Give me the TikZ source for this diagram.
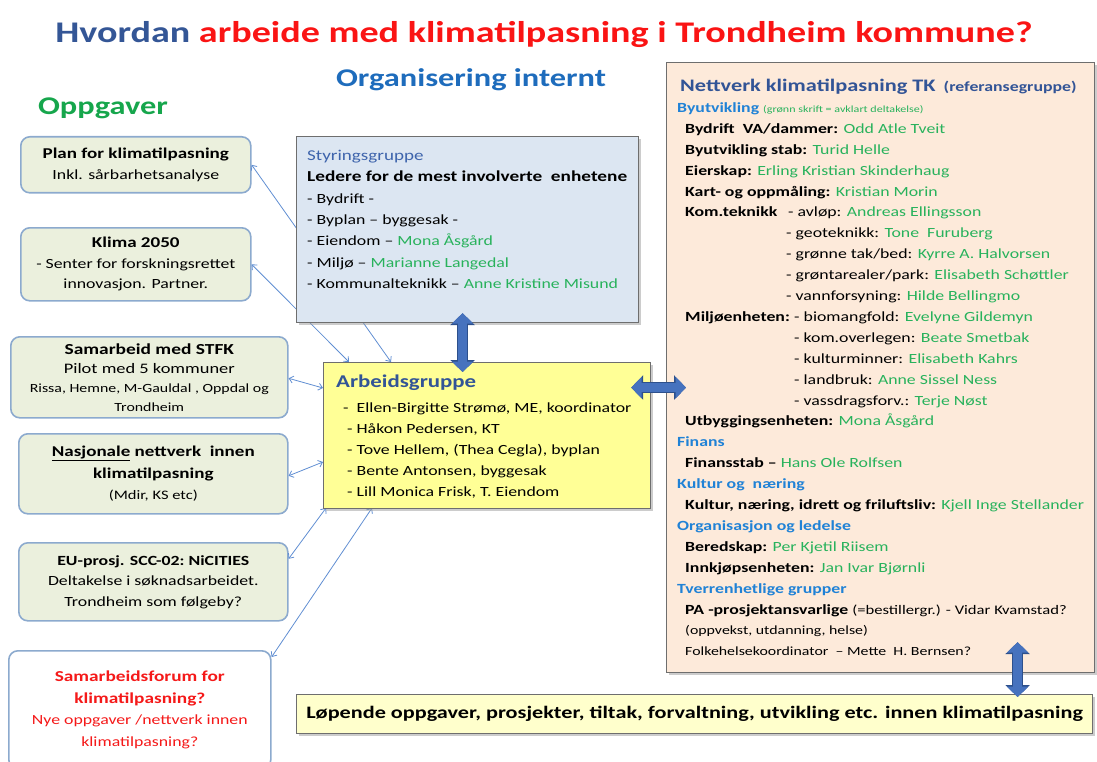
\documentclass[tikz,border=0pt]{standalone}
\usepackage{fontspec}
\setmainfont{Carlito}[FakeStretch=1.27]
\usetikzlibrary{positioning,arrows.meta,shadows}

\definecolor{titleblue}{RGB}{52,86,150}
\definecolor{titlered}{RGB}{250,20,20}
\definecolor{orgblue}{RGB}{30,108,188}
\definecolor{oppgreen}{RGB}{22,166,76}
\definecolor{taskfill}{RGB}{235,240,221}
\definecolor{taskline}{RGB}{140,170,206}
\definecolor{styfill}{RGB}{220,230,242}
\definecolor{arbfill}{RGB}{255,255,150}
\definecolor{netfill}{RGB}{253,234,218}
\definecolor{runfill}{RGB}{255,255,204}
\definecolor{boxline}{RGB}{110,110,110}
\definecolor{namegreen}{RGB}{40,178,92}
\definecolor{headblue}{RGB}{32,130,214}
\definecolor{navy}{RGB}{50,84,150}
\definecolor{styblue}{RGB}{62,100,172}
\definecolor{linkblue}{RGB}{96,142,210}
\definecolor{arrowblue}{RGB}{70,114,190}
\definecolor{arrowedge}{RGB}{45,80,140}
\definecolor{forumred}{RGB}{245,25,25}

\newcommand\nm[1]{\textcolor{namegreen}{#1}}
\newcommand\grp[1]{{\color{headblue}\bfseries\fontsize{14}{21}\selectfont #1}}

\begin{document}
\begin{tikzpicture}[x=1pt, y=1pt,
  taskbox/.style={draw=taskline, line width=1.6pt, rounded corners=9pt, fill=taskfill,
    align=center, anchor=north west, inner sep=2pt, font=\fontsize{14}{20.5}\selectfont},
  stybox/.style={draw=boxline, line width=1.2pt, fill=styfill, anchor=north west,
    drop shadow={shadow xshift=2pt, shadow yshift=-2pt, fill=black!40}},
  arbbox/.style={stybox, fill=arbfill},
  netbox/.style={stybox, fill=netfill},
  runbox/.style={stybox, fill=runfill, inner sep=0pt, align=center,
    font=\bfseries\fontsize{17.5}{20}\selectfont},
  boxtext/.style={anchor=north west, align=left, inner sep=0pt},
  link/.style={draw=linkblue, line width=0.8pt, {Straight Barb[length=4pt,width=7pt]}-{Straight Barb[length=4pt,width=7pt]}},
  blockarrow/.style={draw=arrowblue, line width=8.5pt,
    {Triangle[length=10.5pt,width=21pt]}-{Triangle[length=10.5pt,width=21pt]},
    preaction={draw=arrowedge, line width=10.5pt,
      arrows={Triangle[length=12pt,width=24pt]-Triangle[length=12pt,width=24pt]}}}
]
\useasboundingbox (0,0) rectangle (1097,-762);

% headings
\node[font=\bfseries\fontsize{30}{36}\selectfont] (title) at (544,-34)
  {\textcolor{titleblue}{Hvordan} \textcolor{titlered}{arbeide med klimatilpasning i Trondheim kommune?}};
\node[font=\bfseries\fontsize{25.5}{30}\selectfont, text=orgblue] (org) at (471,-80) {Organisering internt};
\node[font=\bfseries\fontsize{25.5}{30}\selectfont, text=oppgreen] (opp) at (103,-108) {Oppgaver};

% oppgaver
\node[taskbox, minimum width=230, minimum height=56] (plan) at (20,-136)
  {{\bfseries\fontsize{15}{20.5}\selectfont Plan for klimatilpasning}\\ Inkl. sårbarhetsanalyse};
\node[taskbox, minimum width=230, minimum height=73] (klima) at (20,-227)
  {{\bfseries\fontsize{15}{20.5}\selectfont Klima 2050}\\ - Senter for forskningsrettet\\ innovasjon. Partner.};
\node[taskbox, minimum width=277, minimum height=81, font=\fontsize{14.5}{19}\selectfont] (stfk) at (10,-336)
  {{\bfseries\fontsize{15.3}{19}\selectfont Samarbeid med STFK}\\ Pilot med 5 kommuner\\
   {\fontsize{12.5}{16}\selectfont Rissa, Hemne, M-Gauldal , Oppdal og}\\ {\fontsize{12.5}{16}\selectfont Trondheim}};
\node[taskbox, minimum width=269, minimum height=80, font=\fontsize{15}{21.5}\selectfont] (nasj) at (18,-433)
  {{\bfseries\underline{Nasjonale} nettverk\ \ innen}\\ {\bfseries klimatilpasning}\\ {\fontsize{13}{18}\selectfont (Mdir, KS etc)}};
\node[taskbox, minimum width=269, minimum height=78] (eu) at (18,-542)
  {{\bfseries\fontsize{14}{20}\selectfont EU-prosj. SCC-02:\ NiCITIES}\\ Deltakelse i søknadsarbeidet.\\ Trondheim som følgeby?};
\node[taskbox, minimum width=262, minimum height=118, fill=white, text=forumred, font=\fontsize{14}{21.5}\selectfont] (forum) at (8,-650)
  {{\bfseries\fontsize{15.2}{22.5}\selectfont Samarbeidsforum for}\\ {\bfseries\fontsize{15.2}{22.5}\selectfont klimatilpasning?}\\
   Nye oppgaver /nettverk innen\\ klimatilpasning?};

% links to arbeidsgruppe (drawn first, they run behind the boxes)
\coordinate (arbnw) at (323,-362);
\coordinate (arbsw) at (323,-508);
\draw[link] (plan.east) -- ([xshift=68]arbnw);
\draw[link] (klima.east) -- ([xshift=26]arbnw);
\draw[link] ([yshift=-1]stfk.east) -- ([yshift=-26]arbnw);
\draw[link] ([yshift=-2]nasj.east) -- ([yshift=-100]arbnw);
\draw[link] ([yshift=23]eu.east) -- ([xshift=3]arbsw);
\draw[link] ([yshift=-7]forum.north east) -- ([xshift=49]arbsw);

% organisering
\node[stybox, minimum width=342, minimum height=186] (sty) at (296,-136) {};
\node[boxtext, font=\fontsize{14}{21.3}\selectfont] (stytxt) at (307,-150)
  {{\color{styblue}\fontsize{15}{21}\selectfont Styringsgruppe}\\
   {\bfseries\fontsize{15.2}{21}\selectfont Ledere for de mest involverte\ \ enhetene}\\
   - Bydrift -\\
   - Byplan – byggesak -\\
   - Eiendom – \nm{Mona Åsgård}\\
   - Miljø – \nm{Marianne Langedal}\\
   - Kommunalteknikk – \nm{Anne Kristine Misund}};

\node[arbbox, minimum width=327, minimum height=146] (arb) at (arbnw) {};
\node[boxtext, font=\fontsize{14}{21.2}\selectfont] (arbtxt) at (336,-375)
  {{\color{navy}\bfseries\fontsize{18}{22}\selectfont Arbeidsgruppe}\\[3pt]
   \hspace*{7pt}-\ \ Ellen-Birgitte Strømø, ME, koordinator\\
   \hspace*{11pt}- Håkon Pedersen, KT\\
   \hspace*{11pt}- Tove Hellem, (Thea Cegla), byplan\\
   \hspace*{11pt}- Bente Antonsen, byggesak\\
   \hspace*{11pt}- Lill Monica Frisk, T. Eiendom};

% nettverk
\node[netbox, minimum width=428, minimum height=610] (net) at (666,-62) {};
\node[boxtext, font=\fontsize{14}{20.9}\selectfont] (nettxt) at (677,-79)
  {\hspace*{3pt}{\color{navy}\bfseries\fontsize{17.6}{21}\selectfont Nettverk klimatilpasning TK}\ \ {\color{navy}\bfseries\fontsize{14}{21}\selectfont (referansegruppe)}\\
   \grp{Byutvikling} {\color{namegreen}\fontsize{9.5}{10}\selectfont (grønn skrift = avklart deltakelse)}\\
   \hspace*{8pt}\textbf{Bydrift\ \ VA/dammer:} \nm{Odd Atle Tveit}\\
   \hspace*{8pt}\textbf{Byutvikling stab:} \nm{Turid Helle}\\
   \hspace*{8pt}\textbf{Eierskap:} \nm{Erling Kristian Skinderhaug}\\
   \hspace*{8pt}\textbf{Kart- og oppmåling:} \nm{Kristian Morin}\\
   \hspace*{8pt}\makebox[103pt][l]{\textbf{Kom.teknikk}}- avløp: \nm{Andreas Ellingsson}\\
   \hspace*{8pt}\hspace*{101pt}- geoteknikk: \nm{Tone\ \ Furuberg}\\
   \hspace*{8pt}\hspace*{101pt}- grønne tak/bed: \nm{Kyrre A. Halvorsen}\\
   \hspace*{8pt}\hspace*{101pt}- grøntarealer/park: \nm{Elisabeth Schøttler}\\
   \hspace*{8pt}\hspace*{101pt}- vannforsyning: \nm{Hilde Bellingmo}\\
   \hspace*{8pt}\makebox[109pt][l]{\textbf{Miljøenheten:}}- biomangfold: \nm{Evelyne Gildemyn}\\
   \hspace*{8pt}\hspace*{109pt}- kom.overlegen: \nm{Beate Smetbak}\\
   \hspace*{8pt}\hspace*{109pt}- kulturminner: \nm{Elisabeth Kahrs}\\
   \hspace*{8pt}\hspace*{109pt}- landbruk: \nm{Anne Sissel Ness}\\
   \hspace*{8pt}\hspace*{109pt}- vassdragsforv.: \nm{Terje Nøst}\\
   \hspace*{8pt}\textbf{Utbyggingsenheten:} \nm{Mona Åsgård}\\
   \grp{Finans}\\
   \hspace*{8pt}\textbf{Finansstab –} \nm{Hans Ole Rolfsen}\\
   \grp{Kultur og\ \ næring}\\
   \hspace*{8pt}\textbf{Kultur, næring, idrett og friluftsliv:} \nm{Kjell Inge Stellander}\\
   \grp{Organisasjon og ledelse}\\
   \hspace*{8pt}\textbf{Beredskap:} \nm{Per Kjetil Riisem}\\
   \hspace*{8pt}\textbf{Innkjøpsenheten:} \nm{Jan Ivar Bjørnli}\\
   \grp{Tverrenhetlige grupper}\\
   \hspace*{8pt}\textbf{PA -prosjektansvarlige} {\fontsize{13.1}{20}\selectfont (=bestillergr.) - Vidar Kvamstad?}\\
   \hspace*{8pt}{\fontsize{12.5}{20}\selectfont (oppvekst, utdanning, helse)}\\
   \hspace*{8pt}{\fontsize{12.5}{20}\selectfont Folkehelsekoordinator\ \ – Mette\ \ H. Bernsen?}};

\node[runbox, minimum width=796, minimum height=39] (run) at (296,-694)
  {Løpende oppgaver, prosjekter, tiltak, forvaltning, utvikling etc. innen klimatilpasning};

% block arrows
\draw[blockarrow, shorten <=-10pt, shorten >=-10pt] ([xshift=-5]sty.south) -- ([xshift=-5]sty.south |- arb.north);
\draw[blockarrow, shorten <=-20pt, shorten >=-20pt] ([yshift=48]arb.east) -- ([yshift=48]arb.east -| net.west);
\draw[blockarrow, shorten <=-31pt, shorten >=-3pt] ([xshift=323]run.north |- net.south) -- ([xshift=323]run.north);
\end{tikzpicture}
\end{document}
